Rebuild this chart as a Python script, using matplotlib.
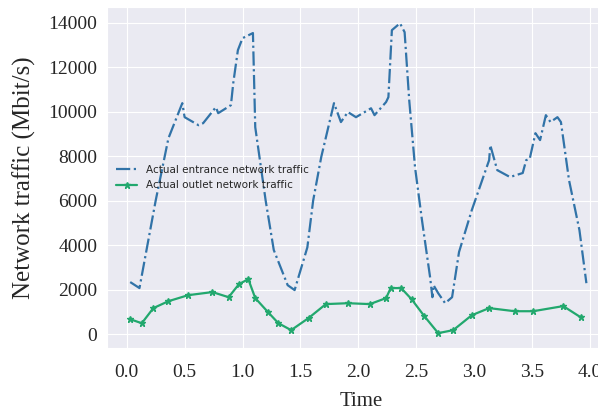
import matplotlib
matplotlib.use('Agg')
import matplotlib.pyplot as plt
import seaborn as sns

# Entrance traffic (blue, dash-dot)
t_in = [0.03, 0.11, 0.25, 0.36, 0.48, 0.50, 0.62, 0.66, 0.77, 0.79, 0.90, 0.92, 0.96,
        1.00, 1.09, 1.11, 1.20, 1.27, 1.39, 1.45, 1.56, 1.61, 1.68, 1.79, 1.85, 1.91,
        1.98, 2.11, 2.14, 2.24, 2.26, 2.29, 2.36, 2.40, 2.44, 2.49, 2.55, 2.62, 2.64,
        2.65, 2.69, 2.75, 2.81, 2.87, 2.98, 3.04, 3.13, 3.14, 3.20, 3.31, 3.42, 3.45,
        3.48, 3.53, 3.57, 3.62, 3.66, 3.72, 3.75, 3.82, 3.91, 3.97]
v_in = [2340, 2070, 6000, 8800, 10380, 9750, 9390, 9480, 10200, 9930, 10290, 11280, 12760,
        13300, 13530, 9300, 6000, 3780, 2200, 1980, 3900, 6000, 7960, 10380, 9530, 9980,
        9750, 10150, 9840, 10430, 10650, 13660, 13970, 13570, 10500, 7500, 5120, 2560, 1660,
        2200, 1840, 1390, 1660, 3690, 5570, 6470, 7820, 8490, 7370, 7060, 7240, 7820,
        7870, 9030, 8720, 9840, 9530, 9750, 9530, 6920, 4670, 2290]

# Outlet traffic (green, star markers)
t_out = [0.03, 0.13, 0.23, 0.36, 0.53, 0.74, 0.88, 0.97, 1.05, 1.11, 1.22, 1.31, 1.42,
         1.57, 1.72, 1.91, 2.10, 2.24, 2.28, 2.37, 2.46, 2.57, 2.69, 2.82, 2.98, 3.13,
         3.35, 3.51, 3.77, 3.92]
v_out = [670, 490, 1170, 1480, 1750, 1890, 1660, 2250, 2470, 1620, 990, 490, 180,
         720, 1350, 1390, 1350, 1620, 2070, 2070, 1570, 810, 45, 180, 850, 1170,
         1030, 1030, 1260, 760]

sns.set_style('darkgrid')
plt.rcParams['font.family'] = ['DejaVu Sans']

fig = plt.figure(figsize=(5.98, 4.13), dpi=100)
ax = fig.add_axes([0.179, 0.157, 0.85, 0.826])

ax.plot(t_in, v_in, linestyle='-.', color='#3173a8', linewidth=1.6,
        label='Actual entrance network traffic')
ax.plot(t_out, v_out, linestyle='-', color='#22a86e', linewidth=1.6,
        marker='*', markersize=5, label='Actual outlet network traffic')

ax.set_xlim(-0.17, 4.22)
ax.set_ylim(-630, 14700)
ax.set_xticks([0.0, 0.5, 1.0, 1.5, 2.0, 2.5, 3.0, 3.5, 4.0])
ax.set_yticks(range(0, 14001, 2000))

for lab in ax.get_xticklabels() + ax.get_yticklabels():
    lab.set_fontfamily('Liberation Serif')
    lab.set_fontsize(14)
ax.tick_params(axis='x', pad=8)
ax.set_xlabel('Time', fontdict={'family': 'Liberation Serif', 'size': 15}, labelpad=8)
ax.set_ylabel('Network traffic (Mbit/s)', fontdict={'family': 'Liberation Serif', 'size': 18},
              labelpad=9)

ax.legend(loc='center left', bbox_to_anchor=(0.0, 0.5), frameon=False, fontsize=7.5)

fig.savefig('out.png', dpi=100)
